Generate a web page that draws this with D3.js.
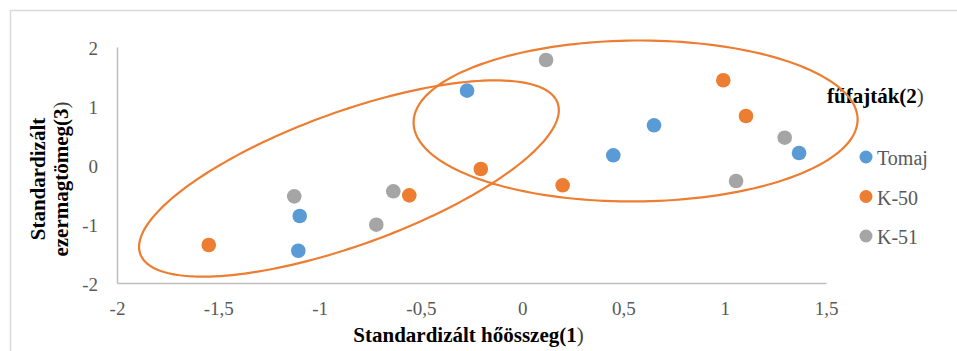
<!DOCTYPE html>
<html>
<head>
<meta charset="utf-8">
<script src="https://cdn.jsdelivr.net/npm/d3@7"></script>
<style>
  body { margin: 0; background: #fff; }
  svg { display: block; font-family: "Liberation Serif", "Times New Roman", serif; }
</style>
</head>
<body>
<div id="chart"></div>
<script>
// series: [standardized heat sum, standardized seed mass]
const seriesNames = ['Tomaj', 'K-50', 'K-51'];
const tomaj = [[-0.272, 1.26], [0.651, 0.673], [1.367, 0.203], [0.450, 0.164], [-1.098, -0.864], [-1.105, -1.453]];
const k50 = [[0.993, 1.436], [1.105, 0.831], [0.200, -0.344], [-0.204, -0.068], [-0.557, -0.514], [-1.547, -1.356]];
const k51 = [[0.118, 1.780], [1.296, 0.463], [1.056, -0.271], [-1.125, -0.531], [-0.720, -1.012], [-0.636, -0.446]];
const xTicks = [-2, -1.5, -1, -0.5, 0, 0.5, 1, 1.5];
const yTicks = [-2, -1, 0, 1, 2];
// group ellipses in data units: centre, two conjugate semi-axis vectors
const ellipses = [
  { cx: -0.855, cy: -0.229, ux: 1.030, uy: 1.281, vx: 0.112, vy: -1.061 },
  { cx: 0.560, cy: 0.746, ux: 1.096, uy: 0.025, vx: 0.0, vy: -1.364 }
];

const colors = ['#5B9BD5', '#ED7D31', '#A5A5A5'];
const allSeries = [tomaj, k50, k51];

const width = 957, height = 351;
const plot = { left: 117, right: 826, top: 47, bottom: 283 };

const svg = d3.select('#chart').append('svg')
  .attr('width', width)
  .attr('height', height);

svg.append('rect')
  .attr('x', 10.5).attr('y', 10.5)
  .attr('width', 970).attr('height', 370)
  .attr('fill', 'none')
  .attr('stroke', '#D9D9D9')
  .attr('stroke-width', 1.5);

const x = d3.scaleLinear().domain([-2, 1.5]).range([plot.left, plot.right]);
const y = d3.scaleLinear().domain([-2, 2]).range([plot.bottom, plot.top]);
const fmt = d => String(d).replace('.', ',');

const xAxis = svg.append('g')
  .attr('transform', `translate(0,${plot.bottom})`)
  .call(d3.axisBottom(x).tickValues(xTicks).tickFormat(fmt).tickSize(0).tickPadding(19));

const yAxis = svg.append('g')
  .attr('transform', `translate(${plot.left},0)`)
  .call(d3.axisLeft(y).tickValues(yTicks).tickFormat(fmt).tickSize(0).tickPadding(19));

[xAxis, yAxis].forEach(g => {
  g.select('.domain').attr('stroke', '#BFBFBF').attr('stroke-width', 1.5);
  g.selectAll('text')
    .attr('fill', '#595959')
    .attr('font-size', '19px')
    .attr('font-family', '"Liberation Serif", serif');
});
yAxis.selectAll('text').attr('dy', '0.42em');

// points
allSeries.forEach((s, i) => {
  svg.append('g').selectAll('circle')
    .data(s)
    .enter()
    .append('circle')
    .attr('cx', d => x(d[0]))
    .attr('cy', d => y(d[1]))
    .attr('r', 7.3)
    .attr('fill', colors[i]);
});

// axis titles
const xt = svg.append('text')
  .attr('x', (plot.left + plot.right) / 2 - 3)
  .attr('y', 342)
  .attr('text-anchor', 'middle')
  .attr('font-size', '21px')
  .attr('fill', '#000');
xt.append('tspan').attr('font-weight', 'bold').text('Standardizált hőösszeg(1');
xt.append('tspan').attr('fill', '#404040').text(')');

const yt = svg.append('text')
  .attr('transform', 'rotate(-90)')
  .attr('text-anchor', 'middle')
  .attr('font-size', '21px')
  .attr('fill', '#000');
yt.append('tspan').attr('x', -179).attr('y', 45).attr('font-weight', 'bold').text('Standardizált');
const line2 = yt.append('tspan').attr('x', -179).attr('y', 68);
line2.append('tspan').attr('font-weight', 'bold').text('ezermagtömeg(3');
line2.append('tspan').attr('fill', '#404040').text(')');

// legend
const lt = svg.append('text')
  .attr('x', 827).attr('y', 103)
  .attr('font-size', '21px')
  .attr('fill', '#000');
lt.append('tspan').attr('font-weight', 'bold').text('fűfajták(2');
lt.append('tspan').attr('fill', '#404040').text(')');

const legend = svg.append('g').selectAll('g')
  .data(seriesNames)
  .enter()
  .append('g')
  .attr('transform', (d, i) => `translate(866,${157 + i * 39.5})`);

legend.append('circle')
  .attr('r', 6.5)
  .attr('fill', (d, i) => colors[i]);

legend.append('text')
  .attr('x', 11)
  .attr('y', 8)
  .attr('font-size', '20px')
  .attr('fill', '#595959')
  .text(d => d);

// ellipses drawn on top, through the scales
const ts = d3.range(0, 2 * Math.PI, Math.PI / 90);
const line = d3.line()
  .x(p => x(p[0]))
  .y(p => y(p[1]))
  .curve(d3.curveLinearClosed);

svg.append('g').selectAll('path')
  .data(ellipses)
  .enter()
  .append('path')
  .attr('d', e => line(ts.map(t => [
    e.cx + e.ux * Math.cos(t) + e.vx * Math.sin(t),
    e.cy + e.uy * Math.cos(t) + e.vy * Math.sin(t)
  ])))
  .attr('fill', 'none')
  .attr('stroke', '#ED7D31')
  .attr('stroke-width', 2.2);
</script>
</body>
</html>
